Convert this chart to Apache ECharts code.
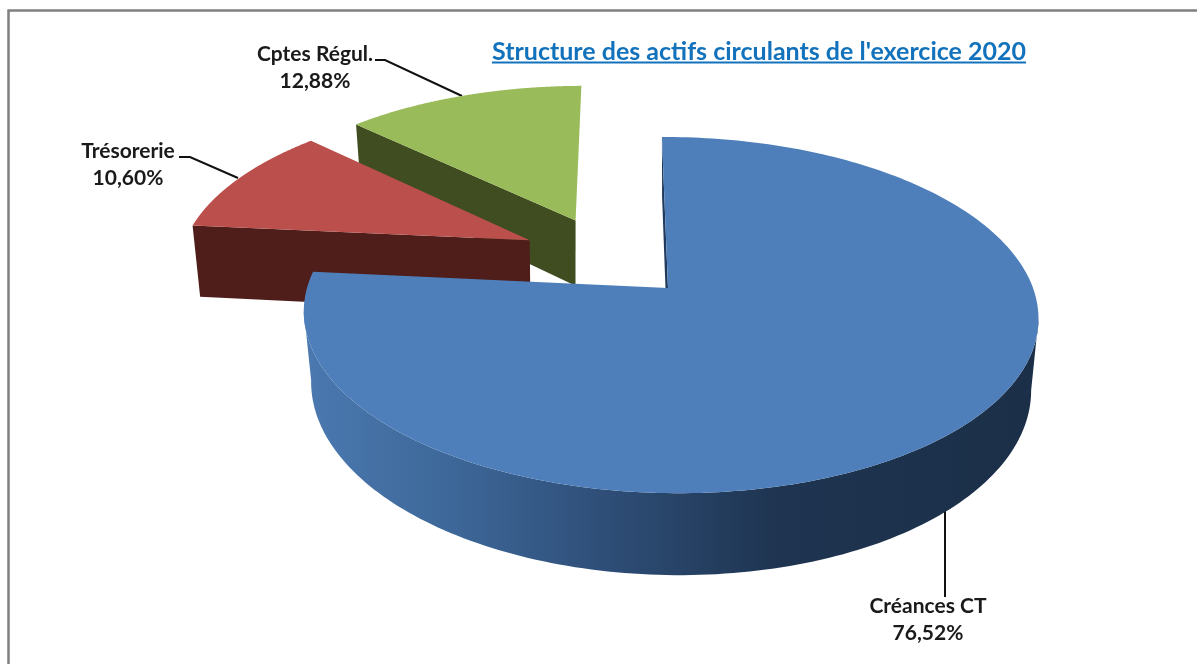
<!DOCTYPE html>
<html><head><meta charset="utf-8">
<style>html,body{margin:0;padding:0;background:#fff}#c{width:1197px;height:664px}</style>
<script src="https://cdn.jsdelivr.net/npm/echarts@6/dist/echarts.min.js"></script>
</head><body><div id="c"></div>
<script>
var chartTitle = "Structure des actifs circulants de l'exercice 2020";
var categories = ["Créances CT", "Trésorerie", "Cptes Régul."];
var shareLabels = ["76,52%", "10,60%", "12,88%"];
var values = [76.52, 10.60, 12.88];
var topColors = ["#4e7fbb", "#bb4f4c", "#9abb59"];
var wallColors = ["#1f3a5c", "#4f1d1a", "#3f4d20"];
var explodeU = [0, -0.393, -0.263];
var explodeV = [0, 0.287, 0.413];
var wallDepth = [1, 1.09, 1];
var wallShiftX = [0, -2, -2];
var labelPos = [[928, 620], [128, 165], [315, 68]];
var leaders = [
  [[945, 597], [945, 510]],
  [[179, 157], [190, 157], [238, 178]],
  [[375, 60], [385, 60], [462, 96]]
];

var X0 = 668, Y0 = 288, A = 363, B = 174, K = 0.152, L = -0.0055, TILT = 7, DEPTH = 69.5, VX = 671, SHRINK = 0.02;
var total = values.reduce(function (a, b) { return a + b; }, 0);
var starts = [];
values.reduce(function (acc, v, i) { starts[i] = acc; return acc + v; }, 0);

function proj(i, u, v, low) {
  var w = 1 + K * v + L * u;
  var x = X0 + (A * u - TILT * v) / w;
  var y = Y0 - B * v / w;
  if (low) {
    x = x - (x - VX) * SHRINK + wallShiftX[i];
    y = y + DEPTH * wallDepth[i] / w;
  }
  return [x, y];
}
function rimPoint(i, t, low) {
  return proj(i, explodeU[i] + Math.sin(t), explodeV[i] + Math.cos(t), low);
}
function arc(i, t0, t1, low) {
  var pts = [], n = 240;
  for (var k = 0; k <= n; k++) pts.push(rimPoint(i, t0 + (t1 - t0) * k / n, low));
  return pts;
}
function poly(pts, fill) {
  return { type: 'polygon', shape: { points: pts }, style: { fill: fill }, silent: true };
}
function extremeIndex(pts, sign) {
  var best = 0;
  pts.forEach(function (p, k) { if (sign * p[0] > sign * pts[best][0]) best = k; });
  return best;
}
var rimGradient = new echarts.graphic.LinearGradient(310, 0, 1032, 0, [
  { offset: 0, color: '#4a78af' }, { offset: 0.2, color: '#3d6798' },
  { offset: 0.4, color: '#2f4f79' }, { offset: 0.65, color: '#1e3450' }, { offset: 1, color: '#1b2f48' }
], true);

function renderSlice(params, api) {
  var i = api.value(0);
  var t0 = 2 * Math.PI * starts[i] / total;
  var t1 = t0 + 2 * Math.PI * api.value(1) / total;
  var apexT = proj(i, explodeU[i], explodeV[i], false);
  var apexB = proj(i, explodeU[i], explodeV[i], true);
  var top = arc(i, t0, t1, false), low = arc(i, t0, t1, true);
  var children = [poly([top[0], apexT, apexB, low[0]], wallColors[i])];
  if (i === 0) {
    var tr = extremeIndex(top, 1), tl = extremeIndex(top, -1);
    var lr = extremeIndex(low, 1), ll = extremeIndex(low, -1);
    var rim = top.slice(tr, tl + 1).concat(low.slice(lr, ll + 1).reverse());
    children.push(poly(rim, rimGradient));
  }
  children.push(poly(top.concat([apexT]), topColors[i]));
  return { type: 'group', children: children };
}
function renderLabel(params, api) {
  var i = api.value(0);
  return { type: 'group', children: [
    { type: 'polyline', shape: { points: leaders[i] }, silent: true,
      style: { fill: null, stroke: '#111', lineWidth: 2 } },
    { type: 'text', silent: true, style: {
        x: labelPos[i][0], y: labelPos[i][1], text: categories[i] + '\n' + shareLabels[i],
        fill: '#1a1a1a', font: 'bold 21px Lato', align: 'center', verticalAlign: 'middle', lineHeight: 27
    } }
  ] };
}
var order = [2, 1, 0];
var chart = echarts.init(document.getElementById('c'), null, { renderer: 'canvas' });
chart.setOption({
  animation: false,
  backgroundColor: '#fff',
  title: { text: chartTitle, left: 754, top: 34, textAlign: 'center',
    textStyle: { color: '#1272bb', fontFamily: 'Lato', fontWeight: 'bold', fontSize: 25 } },
  graphic: [
    { type: 'rect', shape: { x: 8.5, y: 10.5, width: 1300, height: 800 }, silent: true,
      style: { fill: 'none', stroke: '#808080', lineWidth: 2.5 }, z: -1 },
    { type: 'line', shape: { x1: 492, y1: 62.5, x2: 1026, y2: 62.5 }, silent: true,
      style: { stroke: '#1272bb', lineWidth: 2 } }
  ],
  series: [
    { type: 'custom', coordinateSystem: 'none', renderItem: renderLabel, z: 1,
      encode: { value: [0, 1] },
      data: order.map(function (i) { return [i, values[i]]; }) },
    { type: 'custom', coordinateSystem: 'none', renderItem: renderSlice, z: 2,
      encode: { value: [0, 1] },
      data: order.map(function (i) { return { name: categories[i], value: [i, values[i]] }; }) }
  ]
});
</script></body></html>
